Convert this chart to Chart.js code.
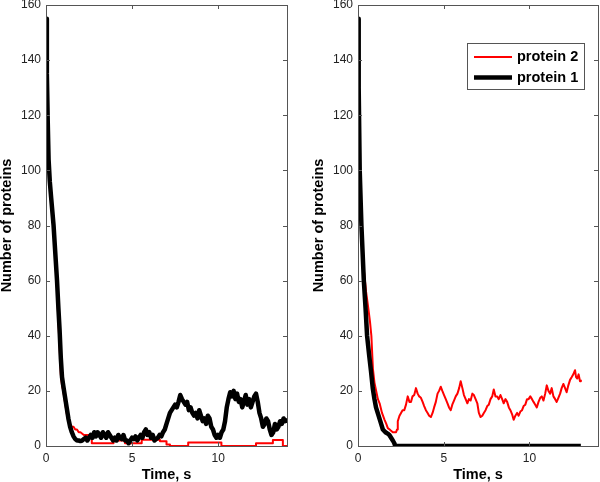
<!DOCTYPE html>
<html>
<head>
<meta charset="utf-8">
<script src="https://cdn.jsdelivr.net/npm/chart.js@4.4.1/dist/chart.umd.min.js"></script>
<style>
  html, body { margin: 0; padding: 0; background: #fff; }
  #wrap { position: relative; width: 600px; height: 482px; }
  #chartLeft { position: absolute; left: 0; top: 0; }
  #chartRight { position: absolute; left: 312px; top: 0; }
</style>
</head>
<body>
<div id="wrap">
  <canvas id="chartLeft" width="300" height="482"></canvas>
  <canvas id="chartRight" width="288" height="482"></canvas>
</div>
<script>
// series labels (legend order)
var seriesLabels = ['protein 2', 'protein 1'];
var xTicks = [0, 5, 10];
var yTicks = [0, 20, 40, 60, 80, 100, 120, 140, 160];

// left panel, protein 1 (black)
var tLeftP1 = [0, 0.05, 0.1, 0.15, 0.22, 0.3, 0.37, 0.44, 0.5, 0.57, 0.64, 0.72, 0.79, 0.86, 0.93, 1.0, 1.1, 1.2, 1.3, 1.4, 1.5, 1.6, 1.7, 1.8, 1.9, 2.0,
  2.1, 2.2, 2.3, 2.4, 2.5, 2.6, 2.7, 2.8, 2.9, 3.0, 3.1, 3.2, 3.3, 3.4, 3.5, 3.6, 3.7, 3.8, 3.9, 4.0,
  4.1, 4.2, 4.3, 4.4, 4.5, 4.6, 4.7, 4.8, 4.9, 5.0, 5.1, 5.2, 5.3, 5.4, 5.5, 5.6, 5.7, 5.8, 5.9, 6.0,
  6.1, 6.2, 6.3, 6.4, 6.5, 6.6, 6.7, 6.8, 6.9, 7.0, 7.1, 7.2, 7.3, 7.4, 7.5, 7.6, 7.7, 7.8, 7.9, 8.0,
  8.1, 8.2, 8.3, 8.4, 8.5, 8.6, 8.7, 8.8, 8.9, 9.0, 9.1, 9.2, 9.3, 9.4, 9.5, 9.6, 9.7, 9.8, 9.9, 10.0,
  10.1, 10.2, 10.3, 10.4, 10.5, 10.6, 10.7, 10.8, 10.9, 11.0, 11.1, 11.2, 11.3, 11.4, 11.5, 11.6, 11.7, 11.8, 11.9, 12.0,
  12.1, 12.2, 12.3, 12.4, 12.5, 12.6, 12.7, 12.8, 12.9, 13.0, 13.1, 13.2, 13.3, 13.4, 13.5, 13.6, 13.7, 13.8, 13.9, 14.0];
var nLeftP1 = [155, 135, 118, 104, 96, 90, 85, 80, 74, 67, 60, 50, 42, 32, 25, 22, 18, 14, 10, 7, 5, 3.5, 2.5, 2, 2, 1.8,
  2, 2.5, 3, 2, 3, 4, 3, 5, 3.5, 5, 4, 3, 5, 4, 3, 5, 4, 3, 2, 3,
  2, 4, 3, 2.5, 4, 2, 2, 1, 2, 3, 2.5, 3.5, 2, 3, 4, 3, 5, 6, 4, 5,
  3, 4, 2, 2.5, 3, 4, 3.5, 5, 6, 8, 10, 12, 13, 14, 15, 14, 16, 18.5, 17, 16,
  15, 16, 13, 14, 12, 11, 12, 10, 13, 11, 9, 10, 8, 11, 10, 7, 6, 4, 3, 4,
  3, 5, 6, 9, 14, 17, 19.5, 18, 20, 17, 19, 16, 17, 14, 16, 18.5, 15, 17, 14, 16,
  18, 19, 16, 12, 10, 7, 8, 10, 9, 6, 4, 5, 8, 6, 7, 9, 8, 10, 9, 10];

// left panel, protein 2 (red)
var tLeftP2 = [0, 0.05, 0.1, 0.15, 0.22, 0.3, 0.37, 0.44, 0.5, 0.57, 0.64, 0.72, 0.79, 0.86, 0.93, 1.0, 1.1, 1.2, 1.3, 1.4, 1.5, 1.6, 1.7, 1.8, 1.9, 2.0, 2.2, 2.4,
  2.66, 2.66, 3.92, 3.92, 4.59, 4.59, 5.56, 5.56, 6.62, 6.62, 7.0, 7.0, 7.2, 7.2, 8.26, 8.26, 10.19, 10.19, 12.2, 12.2, 13.18, 13.18, 13.76, 13.76, 14.0];
var nLeftP2 = [155, 133, 116, 103, 95, 88, 83, 78, 72, 64, 57, 45, 36, 26, 22, 20, 16, 12, 9, 8, 7, 7, 6, 6, 5, 5, 4, 4,
  4, 1, 1, 2, 2, 1, 1, 2.3, 2.3, 1.7, 1.7, 0.5, 0.5, 0, 0, 1.3, 1.3, 0, 0, 1, 1, 2.2, 2.2, 0, 0];

// right panel, protein 1 (black)
var tRightP1 = [0, 0.04, 0.1, 0.2, 0.34, 0.44, 0.53, 0.65, 0.76, 0.86, 0.96, 1.05, 1.15, 1.3, 1.45, 1.6, 1.73, 1.83, 1.93, 2.03, 2.12, 2.17, 13.0];
var nRightP1 = [155, 130, 100, 80, 60, 50, 40, 33, 27, 21, 17, 14, 12, 9, 6, 5, 4.5, 4, 3, 2, 1, 0, 0];

// right panel, protein 2 (red)
var tRightP2 = [0, 0.05, 0.1, 0.2, 0.34, 0.47, 0.6, 0.7, 0.78, 0.87, 0.96, 1.06, 1.16, 1.26, 1.4, 1.55, 1.65, 1.74, 1.85, 1.93, 2.03, 2.13, 2.22,
  2.28, 2.32, 2.42, 2.51, 2.6, 2.7, 2.8, 2.9, 3.0, 3.09, 3.18, 3.28, 3.38, 3.48, 3.57, 3.67, 3.77, 3.86, 3.96, 4.06, 4.15, 4.25, 4.35,
  4.44, 4.54, 4.64, 4.73, 4.83, 4.92, 5.02, 5.12, 5.22, 5.31, 5.41, 5.5, 5.6, 5.7, 5.8, 5.9, 5.99, 6.09, 6.18, 6.28, 6.38, 6.47,
  6.57, 6.67, 6.76, 6.86, 6.96, 7.05, 7.15, 7.25, 7.34, 7.44, 7.54, 7.63, 7.73, 7.83, 7.92, 8.02, 8.12, 8.21, 8.31, 8.41, 8.5,
  8.6, 8.7, 8.8, 8.89, 8.99, 9.08, 9.18, 9.28, 9.37, 9.47, 9.57, 9.66, 9.76, 9.86, 9.95, 10.05, 10.15, 10.24, 10.34, 10.43, 10.53,
  10.63, 10.72, 10.82, 10.92, 11.01, 11.11, 11.21, 11.3, 11.4, 11.5, 11.59, 11.69, 11.79, 11.88, 11.98, 12.08, 12.17, 12.27, 12.37,
  12.47, 12.56, 12.66, 12.72, 12.79, 12.87, 12.95, 13.0];
var nRightP2 = [155, 130, 102, 84, 64, 56, 50, 45, 40, 28, 23, 20, 17, 15.5, 12, 9.5, 8, 6.5, 6, 5.5, 5, 5, 5,
  6, 9, 11, 12, 13, 13, 15, 18, 16, 16, 18, 18.5, 21, 19, 18, 17.5, 16, 14.5, 13, 12, 11, 10.5, 12,
  14, 16, 19, 20, 21.5, 20, 18.5, 17, 15.5, 14, 13, 15, 16.5, 18, 19, 21, 23.5, 21, 18.5, 17, 15.5, 17,
  16.5, 19, 18.5, 17, 15.5, 12, 10.5, 11, 12, 13, 14.5, 15, 17, 18, 20.5, 18, 18, 17, 18.5, 17, 15.5,
  17, 16, 14, 13, 11.5, 9.5, 11, 12, 11, 12.5, 13, 14.5, 15, 17, 17, 18, 17, 16, 15, 14, 16,
  17.5, 18, 16.5, 19, 22, 20, 19, 21, 18, 17, 16, 17.5, 19, 21, 22.5, 21, 19.5, 22, 24,
  25, 26, 27.5, 25, 24.5, 26, 23.5, 24];

function toPoints(ts, ns) {
  return ts.map(function (t, i) { return { x: t, y: ns[i] }; });
}

// box round the plot area with inward ticks on all four sides
var boxPlugin = {
  id: 'boxPlugin',
  afterDraw: function (chart) {
    var ctx = chart.ctx;
    var a = chart.chartArea;
    var xs = chart.scales.x, ys = chart.scales.y;
    var len = 4;
    ctx.save();
    ctx.strokeStyle = '#555';
    ctx.lineWidth = 1;
    ctx.strokeRect(Math.round(a.left) + 0.5, Math.round(a.top) + 0.5,
      Math.round(a.right - a.left), Math.round(a.bottom - a.top));
    ctx.beginPath();
    xs.ticks.forEach(function (tk) {
      var px = Math.round(xs.getPixelForValue(tk.value)) + 0.5;
      ctx.moveTo(px, a.bottom); ctx.lineTo(px, a.bottom - len);
      ctx.moveTo(px, a.top); ctx.lineTo(px, a.top + len);
    });
    ys.ticks.forEach(function (tk) {
      var py = Math.round(ys.getPixelForValue(tk.value)) + 0.5;
      ctx.moveTo(a.left, py); ctx.lineTo(a.left + len, py);
      ctx.moveTo(a.right, py); ctx.lineTo(a.right - len, py);
    });
    ctx.stroke();
    ctx.restore();
  }
};

// boxed legend, top right inside the plot
var legendPlugin = {
  id: 'legendPlugin',
  afterDraw: function (chart, args, opts) {
    if (!opts.show) return;
    var ctx = chart.ctx;
    var bx = 155, by = 43, bw = 117, bh = 46;
    ctx.save();
    ctx.fillStyle = '#fff';
    ctx.fillRect(bx, by, bw, bh);
    ctx.strokeStyle = '#555';
    ctx.lineWidth = 1;
    ctx.strokeRect(bx + 0.5, by + 0.5, bw, bh);
    ctx.font = 'bold 14.5px "Liberation Sans", Arial, sans-serif';
    ctx.textBaseline = 'middle';
    chart.data.datasets.forEach(function (ds, i) {
      var y = by + 14 + i * 20.5;
      ctx.strokeStyle = ds.borderColor;
      ctx.lineWidth = ds.borderWidth;
      ctx.beginPath();
      ctx.moveTo(bx + 7, y);
      ctx.lineTo(bx + 45, y);
      ctx.stroke();
      ctx.fillStyle = '#000';
      ctx.fillText(ds.label, bx + 50, y);
    });
    ctx.restore();
  }
};

var tickFont = { family: '"Liberation Sans", Arial, sans-serif', size: 12 };
var titleFont = { family: '"Liberation Sans", Arial, sans-serif', size: 14.5, weight: 'bold', lineHeight: 1 };

function makeChart(id, redPts, blackPts, rightPad, showLegend) {
  return new Chart(document.getElementById(id), {
    type: 'line',
    data: {
      datasets: [{
        label: seriesLabels[0],
        data: redPts,
        borderColor: '#ff0000',
        borderWidth: 2,
        borderJoinStyle: 'round',
        pointRadius: 0,
        tension: 0,
        order: 1
      }, {
        label: seriesLabels[1],
        data: blackPts,
        borderColor: '#000000',
        borderWidth: 4.5,
        borderJoinStyle: 'round',
        pointRadius: 0,
        tension: 0,
        order: 0
      }]
    },
    options: {
      responsive: false,
      animation: false,
      layout: { padding: { top: 5, right: rightPad, left: 0, bottom: 0 } },
      plugins: {
        legend: { display: false },
        tooltip: { enabled: false },
        legendPlugin: { show: showLegend }
      },
      scales: {
        x: {
          type: 'linear',
          min: 0,
          max: 14,
          grid: { display: false, drawTicks: false, tickLength: 0 },
          border: { display: false },
          afterBuildTicks: function (s) { s.ticks = xTicks.map(function (v) { return { value: v }; }); },
          afterFit: function (s) { s.height = 36; s.paddingLeft = 0; s.paddingRight = 0; },
          ticks: { padding: 5, color: '#222', font: tickFont },
          title: { display: true, text: 'Time, s', color: '#000', padding: 0, font: titleFont }
        },
        y: {
          type: 'linear',
          min: 0,
          max: 160,
          grid: { display: false, drawTicks: false, tickLength: 0 },
          border: { display: false },
          afterBuildTicks: function (s) { s.ticks = yTicks.map(function (v) { return { value: v }; }); },
          afterFit: function (s) { s.width = 46; s.paddingTop = 0; s.paddingBottom = 0; },
          ticks: { padding: 5, color: '#222', font: tickFont },
          title: { display: true, text: 'Number of proteins', color: '#000', padding: 0, font: titleFont }
        }
      }
    },
    plugins: [boxPlugin, legendPlugin]
  });
}

makeChart('chartLeft', toPoints(tLeftP2, nLeftP2), toPoints(tLeftP1, nLeftP1), 13, false);
makeChart('chartRight', toPoints(tRightP2, nRightP2), toPoints(tRightP1, nRightP1), 2, true);
</script>
</body>
</html>
